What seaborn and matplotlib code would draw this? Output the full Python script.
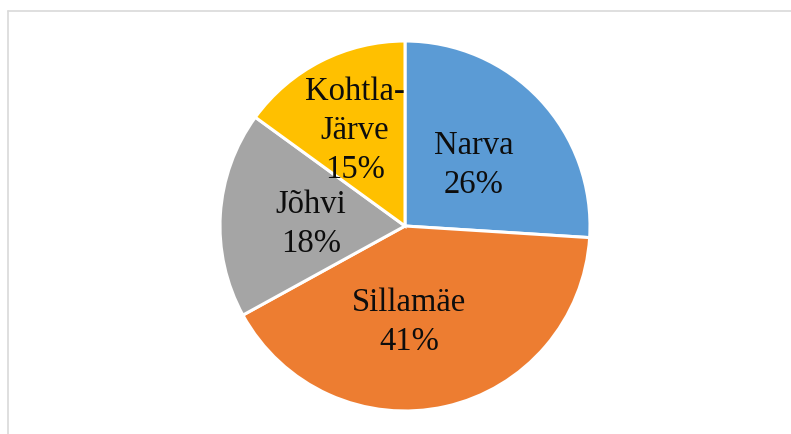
import numpy as np
import matplotlib
matplotlib.use("Agg")
import matplotlib.pyplot as plt
import matplotlib.transforms as mtransforms
import seaborn as sns
from matplotlib.lines import Line2D

cities = ["Narva", "Sillamäe", "Jõhvi", "Kohtla-\nJärve"]
shares = [26, 41, 18, 15]
colors = ["#5B9BD5", "#ED7D31", "#A5A5A5", "#FFC000"]
# how far from the centre each label sits (fraction of radius) and a small angle nudge
label_dist = [0.51, 0.50, 0.51, 0.60]
label_nudge = [0, -10, 0, 0]

sns.set_theme(style="white")
plt.rcParams['font.family'] = ['Liberation Serif', 'DejaVu Serif']

fig = plt.figure(figsize=(7.91, 4.34), dpi=100)
ax = fig.add_axes([220 / 791, 23 / 434, 370 / 791, 370 / 434])

wedges, _ = ax.pie(shares, colors=colors, startangle=90, counterclock=False,
                   radius=1.0, wedgeprops=dict(edgecolor="white", linewidth=2.2))
ax.set_xlim(-1, 1)
ax.set_ylim(-1, 1)
ax.set_aspect("equal")
ax.axis("off")

# text boxes sit a touch low in the original
lower = mtransforms.offset_copy(ax.transData, fig=fig, x=0, y=-4, units="dots")

for w, name, val, d, nud in zip(wedges, cities, shares, label_dist, label_nudge):
    mid = np.deg2rad((w.theta1 + w.theta2) / 2 + nud)
    ax.text(d * np.cos(mid), d * np.sin(mid), f"{name}\n{val}%",
            ha="center", va="center", fontsize=23.5, color="#0d0d0d",
            linespacing=1.36, transform=lower)

# thin chart-area frame, only top and left are visible in the original
fig.add_artist(Line2D([7.5 / 791, 1.0], [1 - 10.5 / 434, 1 - 10.5 / 434],
                      transform=fig.transFigure, color="#D9D9D9", lw=1.2))
fig.add_artist(Line2D([7.5 / 791, 7.5 / 791], [0, 1 - 10.5 / 434],
                      transform=fig.transFigure, color="#D9D9D9", lw=1.2))

fig.savefig("out.png", dpi=100, facecolor="white")
